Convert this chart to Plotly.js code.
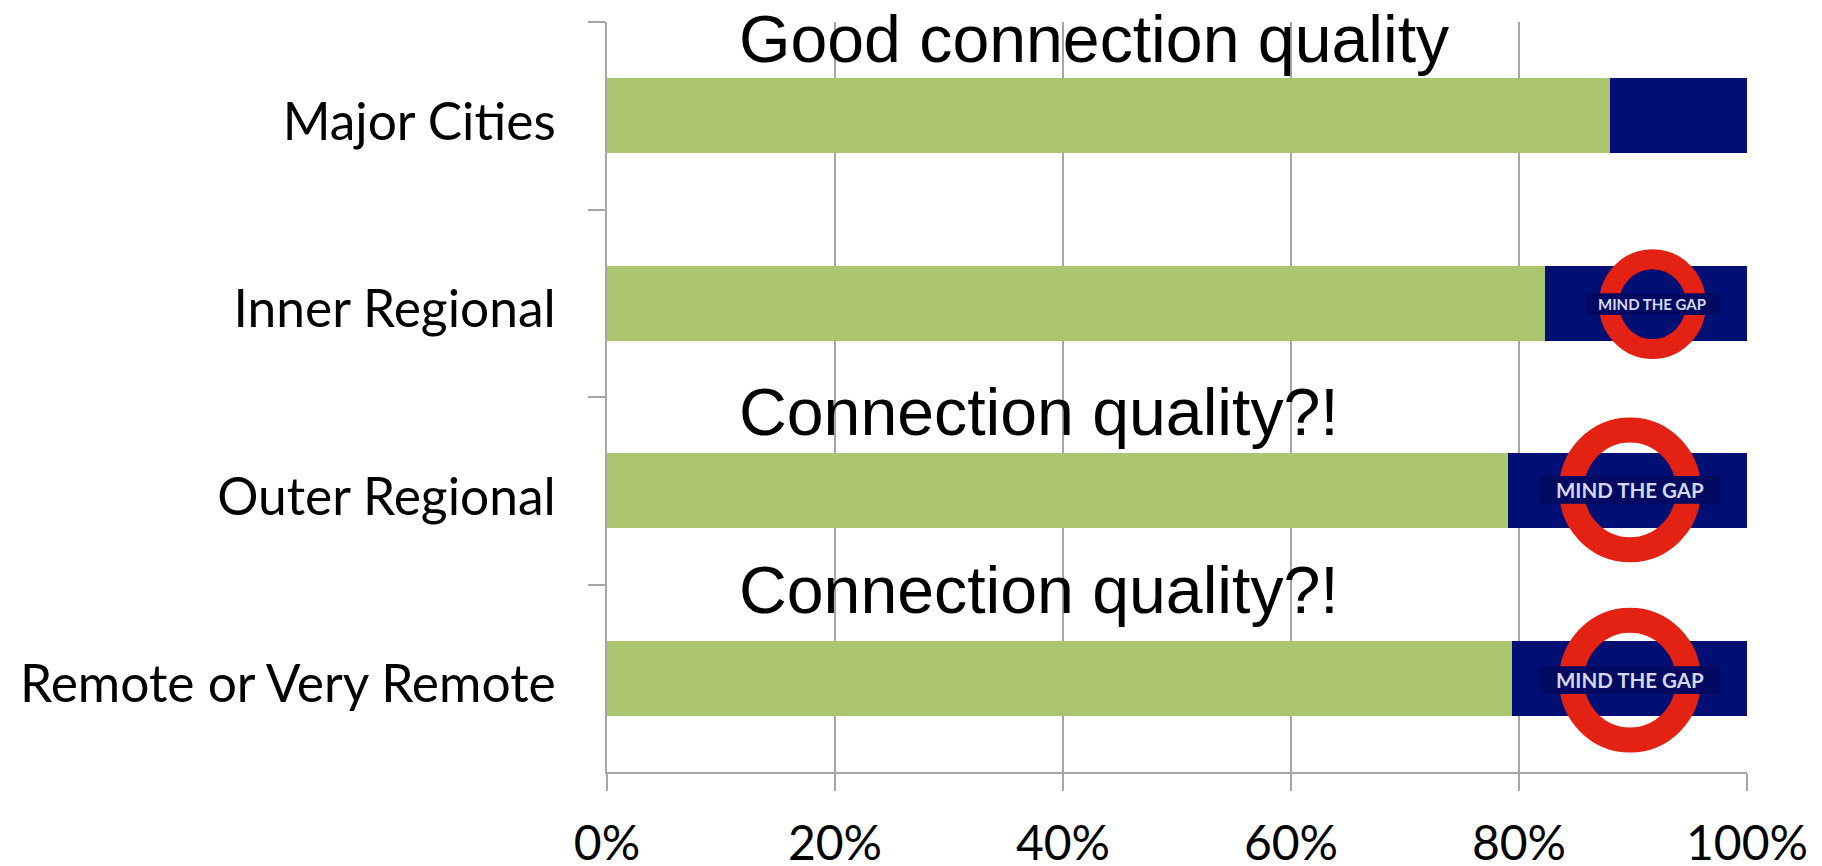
<!DOCTYPE html>
<html>
<head>
<meta charset="utf-8">
<script src="https://cdn.plot.ly/plotly-3.0.1.min.js"></script>
<style>html,body{margin:0;padding:0;background:#fff;overflow:hidden}#chart{width:1822px;height:866px}</style>
</head>
<body>
<div id="chart"></div>
<script>
const categories = ["Major Cities", "Inner Regional", "Outer Regional", "Remote or Very Remote"];
const goodValues = [88.0, 82.3, 79.0, 79.4];
const gapValues = [12.0, 17.7, 21.0, 20.6];
const tickVals = [0, 20, 40, 60, 80, 100];
const tickText = ["0%", "20%", "40%", "60%", "80%", "100%"];
const GREEN = "#acc56f", NAVY = "#000f73", BAND = "#000a60", RED = "#e32213", AXIS = "#a6a6a6";

// pixel helpers for decorative overlays
const L = 607, W = 1140, T = 21.5, H = 751;
const px = v => (v - L) / W * 100;
const py = v => 1 - (v - T) / H;

const notes = [
  {text: "Good connection quality", left: 739, cy: 39},
  {text: "Connection quality?!", left: 739, cy: 412},
  {text: "Connection quality?!", left: 739, cy: 590}
];
const roundels = [
  {cx: 1652.5, cy: 304, rx: 43.5, ry: 45, stroke: 20, b0: 1585, b1: 1720, h: 11, fs: 15, tx: 1652},
  {cx: 1630, cy: 490, rx: 58.5, ry: 60, stroke: 25, b0: 1540, b1: 1720, h: 14, fs: 20.5, tx: 1630},
  {cx: 1630, cy: 680.5, rx: 58.5, ry: 60, stroke: 25, b0: 1540, b1: 1720, h: 14, fs: 20.5, tx: 1630}
];

const shapes = [], annotations = [];
roundels.forEach(r => {
  shapes.push({type: "circle", layer: "above", xref: "x", yref: "paper",
    x0: px(r.cx - r.rx), x1: px(r.cx + r.rx), y0: py(r.cy + r.ry), y1: py(r.cy - r.ry),
    line: {color: RED, width: r.stroke}, fillcolor: "rgba(0,0,0,0)"});
  shapes.push({type: "rect", layer: "above", xref: "x", yref: "paper",
    x0: px(r.b0), x1: px(r.b1), y0: py(r.cy + r.h), y1: py(r.cy - r.h),
    line: {width: 0}, fillcolor: BAND});
  annotations.push({text: "MIND THE GAP", xref: "x", yref: "paper", x: px(r.tx), y: py(r.cy),
    xanchor: "center", yanchor: "middle", showarrow: false,
    font: {family: "Lato, sans-serif", size: r.fs, color: "#d5d8ec", weight: 700}});
});
notes.forEach(n => annotations.push({text: n.text, xref: "x", yref: "paper", x: px(n.left), y: py(n.cy),
  xanchor: "left", yanchor: "middle", showarrow: false, xshift: -2,
  font: {family: "Liberation Sans, Arial, sans-serif", size: 66.2, color: "#000"}}));

const data = [
  {type: "bar", orientation: "h", y: categories, x: goodValues, name: "Good", marker: {color: GREEN, line: {width: 0}}, hoverinfo: "x+y"},
  {type: "bar", orientation: "h", y: categories, x: gapValues, name: "Gap", marker: {color: NAVY, line: {width: 0}}, hoverinfo: "x+y"}
];
const layout = {
  width: 1822, height: 866,
  margin: {l: L, r: 1822 - L - W, t: T, b: 866 - T - H, pad: 0},
  paper_bgcolor: "#fff", plot_bgcolor: "#fff",
  barmode: "stack", bargap: 0.6, showlegend: false,
  font: {family: "Lato, sans-serif", color: "#000"},
  xaxis: {range: [0, 100], tickmode: "array", tickvals: tickVals, ticktext: tickText,
    showgrid: true, gridcolor: AXIS, gridwidth: 2, zeroline: false,
    showline: true, linecolor: AXIS, linewidth: 2,
    ticks: "outside", ticklen: 17, tickwidth: 2, tickcolor: AXIS, ticklabelstandoff: 11,
    tickfont: {family: "Lato, sans-serif", size: 48, color: "#000"}, automargin: false},
  yaxis: {type: "category", autorange: false, range: [3.5, -0.5], tickson: "boundaries",
    showgrid: false, zeroline: false, showline: true, linecolor: AXIS, linewidth: 2,
    ticks: "outside", ticklen: 17, tickwidth: 2, tickcolor: AXIS, ticklabelstandoff: 39, ticklabelshift: -6,
    tickfont: {family: "Lato, sans-serif", size: 51.5, color: "#000"}, automargin: false},
  shapes, annotations
};
Plotly.newPlot("chart", data, layout, {displayModeBar: false, responsive: false});
</script>
</body>
</html>
